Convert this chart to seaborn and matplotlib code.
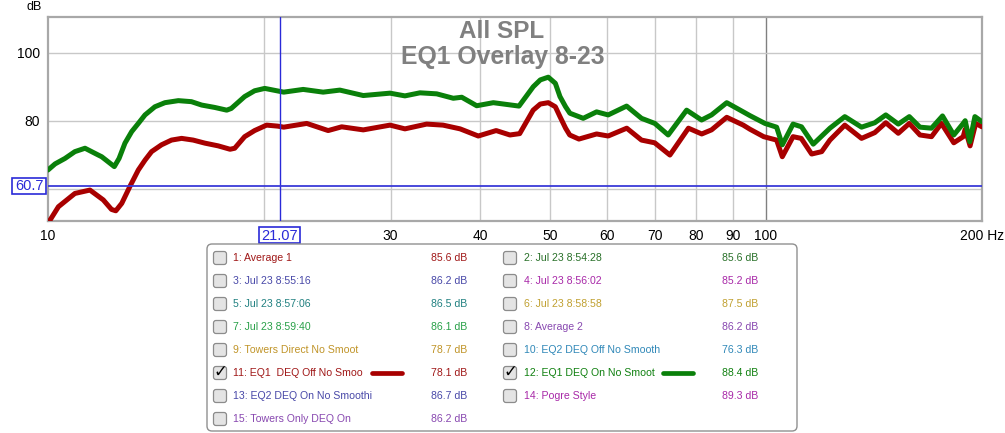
import numpy as np
import pandas as pd
import matplotlib
matplotlib.use("Agg")
import matplotlib.pyplot as plt
import matplotlib.transforms as mtransforms
from matplotlib.patches import FancyBboxPatch, Rectangle
import seaborn as sns

# ---------------- data ----------------
green_freq = [10.0, 10.23, 10.56, 10.9, 11.26, 11.75, 11.88, 12.37, 12.56, 12.8, 13.08, 13.36, 13.65,
              14.09, 14.55, 15.19, 15.84, 16.37, 17.07, 17.74, 18.0, 18.79, 19.4,
              20.04, 21.3, 22.67, 24.17, 25.5, 27.49, 29.95, 31.42, 32.97, 34.79, 36.69, 37.7,
              39.55, 41.72, 45.3, 47.42, 48.5, 49.76, 50.9, 51.66, 52.6, 53.33, 55.66, 58.1, 60.3,
              63.97, 67.1, 70.03, 73.1, 77.55, 81.36, 84.0, 88.2, 92.99, 95.0, 99.7, 103.5, 105.4,
              109.1, 112.1, 116.4, 122.8, 128.8, 135.9, 141.8, 146.9, 152.9, 158.4, 163.9, 170.1,
              176.2, 182.7, 188.3, 189.5, 192.3, 195.5, 200.0]
green_spl = [65.5, 67.3, 68.9, 70.9, 71.9, 69.9, 69.4, 66.5, 68.9, 73.4, 76.8, 79.2, 81.7,
             84.1, 85.3, 85.9, 85.6, 84.6, 83.9, 83.1, 83.6, 87.1, 88.8,
             89.5, 88.4, 89.2, 88.4, 89.0, 87.4, 88.1, 87.3, 88.2, 87.9, 86.6, 86.9,
             84.4, 85.3, 84.3, 90.0, 92.0, 92.8, 91.0, 87.1, 84.1, 82.2, 80.7, 82.6, 81.7,
             84.3, 80.7, 79.2, 75.8, 83.1, 80.2, 81.7, 85.3, 82.6, 81.5, 79.2, 78.1, 72.9,
             79.0, 78.2, 73.1, 77.8, 81.2, 78.1, 79.4, 81.7, 79.0, 81.2, 78.1, 77.8,
             81.4, 75.8, 79.2, 80.0, 73.8, 81.2, 79.7]

red_freq = [10.0, 10.34, 10.9, 11.44, 11.94, 12.26, 12.43, 12.67, 13.0, 13.36, 13.65, 13.94, 14.39,
            14.86, 15.35, 15.93, 16.54, 17.26, 17.93, 18.2, 18.79, 19.4, 20.16, 20.9, 21.3,
            22.93, 24.56, 25.65, 27.49, 29.95, 31.42, 33.68, 35.5, 37.5, 39.75,
            42.1, 44.0, 45.4, 47.4, 48.5, 49.76, 50.9, 51.66, 52.6, 53.3, 54.9, 58.1, 60.3, 64.0,
            67.1, 70.0, 73.5, 78.0, 81.4, 84.0, 88.2, 93.0, 95.0, 99.3, 103.5, 105.4, 109.1, 112.0,
            115.8, 119.6, 122.8, 128.8, 135.9, 141.8, 146.9, 152.9, 158.4, 163.9, 170.1,
            175.6, 182.7, 188.3, 189.5, 192.5, 196.0, 200.0]
red_spl = [49.8, 54.7, 58.6, 59.6, 56.7, 53.9, 53.5, 55.7, 60.6, 65.5, 68.4, 70.9, 72.9,
           74.3, 74.8, 74.3, 73.4, 72.6, 71.6, 71.9, 75.3, 77.1, 78.7, 78.4, 78.1,
           79.2, 77.1, 78.2, 77.3, 78.7, 77.6, 79.0, 78.7, 77.6, 75.5,
           77.1, 75.8, 76.2, 83.1, 84.9, 85.3, 84.1, 81.2, 77.8, 75.8, 74.6, 76.1, 75.5, 77.8,
           74.3, 73.5, 69.9, 77.8, 76.1, 77.3, 81.0, 78.7, 77.5, 75.3, 74.3, 69.4, 75.3, 74.8,
           70.2, 70.9, 74.3, 78.7, 74.8, 76.5, 79.4, 76.3, 79.2, 75.8, 75.3,
           79.2, 73.5, 75.3, 77.5, 72.6, 79.2, 78.2]

x_ticks = [10, 20, 30, 40, 50, 60, 70, 80, 90, 100, 200]
x_tick_labels = ["10", "", "30", "40", "50", "60", "70", "80", "90", "100", "200 Hz"]
y_ticks = [60, 80, 100]
y_tick_labels = ["", "80", "100"]

cursor_freq = 21.07
cursor_spl = 60.7

legend_left_labels = ["1: Average 1", "3: Jul 23 8:55:16", "5: Jul 23 8:57:06", "7: Jul 23 8:59:40",
                      "9: Towers Direct No Smoot", "11: EQ1  DEQ Off No Smoo",
                      "13: EQ2 DEQ On No Smoothi", "15: Towers Only DEQ On"]
legend_left_values = ["85.6 dB", "86.2 dB", "86.5 dB", "86.1 dB", "78.7 dB", "78.1 dB", "86.7 dB", "86.2 dB"]
legend_left_colors = ["#a01818", "#4848a8", "#208080", "#28a048", "#c09428", "#a01818", "#4848a8", "#8848b0"]
legend_left_checked = [False, False, False, False, False, True, False, False]

legend_right_labels = ["2: Jul 23 8:54:28", "4: Jul 23 8:56:02", "6: Jul 23 8:58:58", "8: Average 2",
                       "10: EQ2 DEQ Off No Smooth", "12: EQ1 DEQ On No Smoot", "14: Pogre Style"]
legend_right_values = ["85.6 dB", "85.2 dB", "87.5 dB", "86.2 dB", "76.3 dB", "88.4 dB", "89.3 dB"]
legend_right_colors = ["#287028", "#a828a8", "#c0a030", "#8848b0", "#3088b8", "#108010", "#a828a8"]
legend_right_checked = [False, False, False, False, False, True, False]

RED = "#a80000"
GREEN = "#0a800a"

# ---------------- figure ----------------
W, H = 1005, 433
sns.set_style("white")
plt.rcParams["font.family"] = ["Liberation Sans", "DejaVu Sans"]

fig = plt.figure(figsize=(W / 100, H / 100), dpi=100)
ax = fig.add_axes([48 / W, 1 - 221 / H, 934 / W, 204 / H])

df = pd.concat([
    pd.DataFrame({"freq": red_freq, "spl": red_spl, "series": "11"}),
    pd.DataFrame({"freq": green_freq, "spl": green_spl, "series": "12"}),
])

ax.set_xscale("log")
ax.set_xlim(10, 200)
ax.set_ylim(50.5, 110.5)

# grid
for f in x_ticks[1:-1]:
    ax.axvline(f, color="#808080" if f == 100 else "#c8c8c8", lw=1.0, zorder=0)
for v in y_ticks:
    ax.axhline(v, color="#c8c8c8", lw=1.0, zorder=0)

sns.lineplot(data=df, x="freq", y="spl", hue="series", palette={"11": RED, "12": GREEN},
             estimator=None, sort=False, lw=3.6, legend=False, ax=ax, zorder=3)
for ln in ax.get_lines():
    ln.set_solid_joinstyle("round")
    ln.set_solid_capstyle("round")

# cursors
ax.axvline(cursor_freq, color="#2a2ad8", lw=1.0, zorder=4)
ax.axhline(cursor_spl, color="#3a3ad8", lw=1.3, zorder=4)

ax.set_xticks(x_ticks)
ax.set_xticklabels(x_tick_labels)
ax.xaxis.set_minor_locator(matplotlib.ticker.NullLocator())
ax.set_yticks(y_ticks)
ax.set_yticklabels(y_tick_labels)
ax.tick_params(length=0, labelsize=10, colors="#000000")
ax.tick_params(axis="x", pad=6)
ax.tick_params(axis="y", pad=6)
ax.set_xlabel("")
ax.set_ylabel("")
for s in ax.spines.values():
    s.set_color("#a8a8a8")
    s.set_linewidth(1.6)

# pixel transform (origin top-left)
T = mtransforms.Affine2D().scale(1, -1).translate(0, H)

# title
fig.text(502, 31, "All SPL", transform=T, ha="center", va="center", fontsize=17.5,
         fontweight="bold", color="#808080", zorder=2)
fig.text(503, 57, "EQ1 Overlay 8-23", transform=T, ha="center", va="center", fontsize=17.8,
         fontweight="bold", color="#808080", zorder=2)
fig.text(34, 7, "dB", transform=T, ha="center", va="center", fontsize=9, color="#000000")

# cursor boxes
def cursor_box(x0, y0, x1, y1, txt):
    fig.patches.append(Rectangle((x0, y0), x1 - x0, y1 - y0, transform=T, facecolor="white",
                                 edgecolor="#2a2ad8", lw=1.2))
    fig.text((x0 + x1) / 2, (y0 + y1) / 2 + 0.5, txt, transform=T, ha="center", va="center",
             fontsize=10.5, color="#2a2ad8")

cursor_box(259, 227, 300, 243, "21.07")
cursor_box(12, 178, 46, 194, "60.7")

# legend panel
fig.patches.append(FancyBboxPatch((207, 244), 590, 187, boxstyle="round,pad=0,rounding_size=5",
                                  transform=T, facecolor="white", edgecolor="#909090", lw=1.0))

def legend_col(labels, values, colors, checked, xbox, xtext, xval, line_spec):
    for i, (lab, val, col, chk) in enumerate(zip(labels, values, colors, checked)):
        y = 258 + 23 * i
        fig.patches.append(FancyBboxPatch((xbox - 6.5, y - 6.5), 13, 13,
                                          boxstyle="round,pad=0,rounding_size=2.5", transform=T,
                                          facecolor="#e4e4e4", edgecolor="#8c8c8c", lw=0.9))
        if chk:
            fig.text(xbox + 0.5, y - 1, "\u2713", transform=T, ha="center", va="center", fontsize=12,
                     fontweight="bold", color="#000000", family=["DejaVu Sans"])
        fig.text(xtext, y, lab, transform=T, ha="left", va="center", fontsize=7.6, color=col)
        fig.text(xval, y, val, transform=T, ha="right", va="center", fontsize=7.6, color=col)
        if chk:
            fig.lines.append(matplotlib.lines.Line2D([line_spec[0], line_spec[1]], [y, y],
                                                     transform=T, color=line_spec[2], lw=3.4,
                                                     solid_capstyle="round"))

legend_col(legend_left_labels, legend_left_values, legend_left_colors, legend_left_checked,
           220, 233, 467, (372, 402, RED))
legend_col(legend_right_labels, legend_right_values, legend_right_colors, legend_right_checked,
           510, 524, 758, (663, 693, GREEN))

fig.savefig("out.png", dpi=100, facecolor="white")
